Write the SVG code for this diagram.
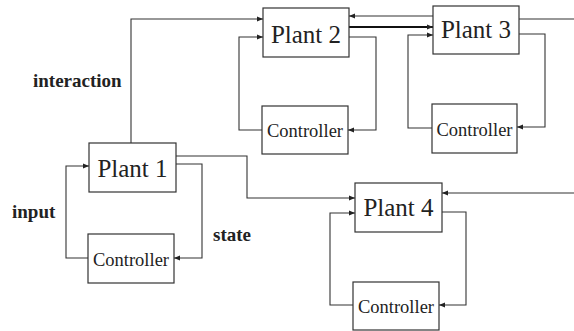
<svg xmlns="http://www.w3.org/2000/svg" width="574" height="331" viewBox="0 0 574 331">
<defs>
<marker id="ah" viewBox="0 0 10 10" refX="10" refY="5" markerWidth="7" markerHeight="6" markerUnits="userSpaceOnUse" orient="auto">
<path d="M0,1 L10,5 L0,9 Z" fill="#222"/>
</marker>
</defs>
<style>
.box{fill:#fff;stroke:#333;stroke-width:1.2}
.ln{fill:none;stroke:#333;stroke-width:1.1}
text{font-family:'Liberation Serif','Times New Roman',Times,serif;fill:#222}
.pl{font-size:25px;text-anchor:middle}
.ct{font-size:18.5px;text-anchor:middle}
.lb{font-size:19px;font-weight:bold}
</style>
<rect width="574" height="331" fill="#fff"/>
<g id="connectors">
<polyline class="ln" points="88,258 66,258 66,166 89,166" marker-end="url(#ah)"/>
<polyline class="ln" points="176,164 202,164 202,258 174,258" marker-end="url(#ah)"/>
<polyline class="ln" points="131,143 131,19 263,19" marker-end="url(#ah)"/>
<polyline class="ln" points="176,156 247,156 247,198 355,198" marker-end="url(#ah)"/>
<polyline class="ln" points="262,130 239,130 239,37 263,37" marker-end="url(#ah)"/>
<polyline class="ln" points="349,37 376,37 376,130 348,130" marker-end="url(#ah)"/>
<polyline class="ln" points="432,128 408,128 408,35 433,35" marker-end="url(#ah)"/>
<polyline class="ln" points="519,34 545,34 545,127 517,127" marker-end="url(#ah)"/>
<polyline class="ln" points="433,16 349,16" marker-end="url(#ah)"/>
<polyline class="ln" style="stroke-width:2;stroke:#111" points="349,27 433,27" marker-end="url(#ah)"/>
<polyline class="ln" points="519,19 574,19"/>
<polyline class="ln" points="353,305 330,305 330,213 355,213" marker-end="url(#ah)"/>
<polyline class="ln" points="442,212 466,212 466,305 439,305" marker-end="url(#ah)"/>
<polyline class="ln" points="574,193 442,193" marker-end="url(#ah)"/>
</g>
<g id="plant1"><rect class="box" x="89" y="143" width="87" height="49"/><text class="pl" x="132.5" y="177">Plant 1</text></g>
<g id="controller1"><rect class="box" x="88" y="234" width="86" height="49"/><text class="ct" x="131" y="266">Controller</text></g>
<g id="plant2"><rect class="box" x="263" y="8" width="86" height="49"/><text class="pl" x="306" y="43">Plant 2</text></g>
<g id="controller2"><rect class="box" x="262" y="106" width="86" height="48"/><text class="ct" x="305" y="137">Controller</text></g>
<g id="plant3"><rect class="box" x="433" y="6" width="86" height="48"/><text class="pl" x="476" y="38">Plant 3</text></g>
<g id="controller3"><rect class="box" x="432" y="104" width="85" height="49"/><text class="ct" x="474.5" y="136">Controller</text></g>
<g id="plant4"><rect class="box" x="355" y="183" width="87" height="49"/><text class="pl" x="398.5" y="216">Plant 4</text></g>
<g id="controller4"><rect class="box" x="353" y="282" width="86" height="48"/><text class="ct" x="396" y="313">Controller</text></g>
<g id="labels">
<text class="lb" x="33" y="87">interaction</text>
<text class="lb" x="12" y="218">input</text>
<text class="lb" x="213" y="241">state</text>
</g>
</svg>
